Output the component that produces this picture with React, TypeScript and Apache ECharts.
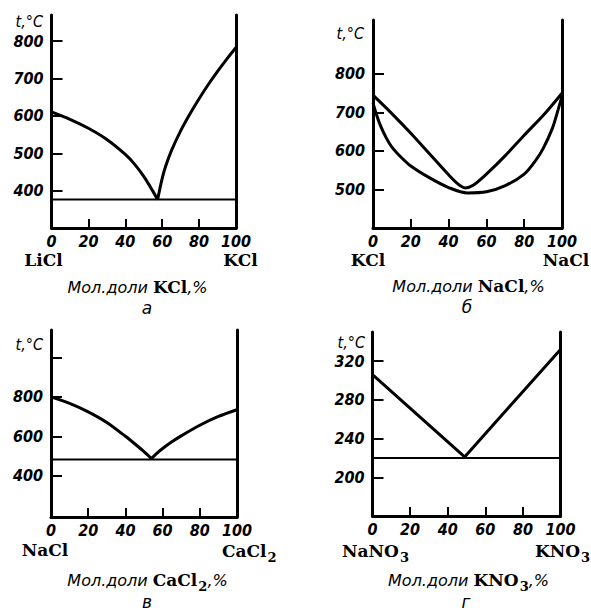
import React, { useEffect, useRef } from "react";
import * as echarts from "echarts";

// ---- Panel а: LiCl – KCl ----
const aLeftX = [0, 10, 20, 30, 40, 45, 50, 55, 57.5];
const aLeftT = [611, 591, 567, 537, 497, 471, 438, 398, 376];
const aRightX = [57.5, 60, 62, 65, 70, 75, 80, 85, 90, 95, 100];
const aRightT = [376, 433, 467, 507, 560, 605, 646, 684, 719, 752, 783];
const aEutectic = 376;
const aYTicks = [400, 500, 600, 700, 800];

// ---- Panel б: KCl – NaCl ----
const bLiqX = [0, 10, 20, 30, 40, 45, 48.7, 53, 60, 70, 80, 90, 100];
const bLiqT = [745, 697, 646, 592, 538, 514, 504, 511, 540, 588, 641, 692, 750];
const bSolX = [0, 2, 4, 7, 10, 15, 20, 30, 40, 50, 60, 70, 80, 86, 90, 95, 98, 100];
const bSolT = [725, 692, 665, 634, 610, 583, 561, 530, 505, 491, 494, 510, 540, 575, 606, 660, 708, 742];
const bYTicks = [500, 600, 700, 800];

// ---- Panel в: NaCl – CaCl2 ----
const cLeftX = [0, 10, 20, 30, 40, 45, 50, 54];
const cLeftT = [800, 767, 724, 670, 600, 562, 522, 487];
const cRightX = [54, 56, 60, 65, 70, 80, 90, 100];
const cRightT = [487, 506, 538, 572, 602, 656, 701, 735];
const cEutectic = 482;
const cYTicks = [400, 600, 800, 1000];
const cYLabels = [400, 600, 800];

// ---- Panel г: NaNO3 – KNO3 ----
const dX = [0, 49, 100];
const dT = [306, 221, 332];
const dEutectic = 220;
const dYTicks = [200, 240, 280, 320];

const xTicks = [20, 40, 60, 80];
const xLabels = [0, 20, 40, 60, 80, 100];

const IT = "'DejaVu Sans Condensed', 'DejaVu Sans', sans-serif";
const ITW = "'DejaVu Sans', sans-serif";
const SERIF = "'DejaVu Serif', 'Liberation Serif', serif";

const pairs = (xs: number[], ys: number[]) => xs.map((x, i) => [x, ys[i]]);

const grids = [
  { left: 51.5, top: 15, width: 184.5, height: 213, min: 300, max: 870, ticks: aYTicks, labels: aYTicks },
  { left: 373, top: 20, width: 189, height: 208, min: 400, max: 940, ticks: bYTicks, labels: bYTicks },
  { left: 51, top: 330, width: 186, height: 187, min: 190, max: 1140, ticks: cYTicks, labels: cYLabels },
  { left: 372.5, top: 332, width: 188, height: 184, min: 160, max: 350, ticks: dYTicks, labels: dYTicks },
];

const richStyles = {
  i: { fontFamily: ITW, fontStyle: "italic", fontSize: 16, color: "#000", lineHeight: 16 },
  t: { fontFamily: IT, fontStyle: "italic", fontSize: 16, color: "#000", lineHeight: 16 },
  L: { fontFamily: ITW, fontStyle: "italic", fontSize: 17, color: "#000", lineHeight: 14 },
  b: { fontFamily: SERIF, fontWeight: "bold", fontSize: 17, color: "#000", lineHeight: 16 },
  s: { fontFamily: SERIF, fontWeight: "bold", fontSize: 13, color: "#000", lineHeight: 16, padding: [12, 0, 0, 1] },
};

function txt(text: string, x: number, y: number, align: string = "center") {
  return {
    type: "text",
    x,
    y,
    style: { text, rich: richStyles, align, verticalAlign: "middle", fill: "#000" },
  };
}

export default function App() {
  const ref = useRef<HTMLDivElement>(null);
  useEffect(() => {
    if (!ref.current) return;
    const chart = echarts.init(ref.current, null, { renderer: "svg" });

    const axisLine = { show: true, onZero: false, lineStyle: { color: "#000", width: 3 } };
    const labelStyle = { color: "#000", fontFamily: IT, fontStyle: "italic", fontWeight: "bold", fontSize: 16 };

    const xAxis = grids.map((g, i) => ({
      type: "value",
      gridIndex: i,
      min: 0,
      max: 100,
      axisLine,
      axisTick: { show: true, inside: true, length: 9, customValues: xTicks, lineStyle: { color: "#000", width: 2 } },
      axisLabel: { show: true, customValues: xLabels, margin: 5, ...labelStyle },
      splitLine: { show: false },
    }));

    const yAxis: any[] = [];
    grids.forEach((g, i) => {
      yAxis.push({
        type: "value",
        gridIndex: i,
        min: g.min,
        max: g.max,
        position: "left",
        axisLine,
        axisTick: { show: true, inside: true, length: 11, customValues: g.ticks, lineStyle: { color: "#000", width: 2 } },
        axisLabel: { show: true, customValues: g.labels, margin: 8, ...labelStyle },
        splitLine: { show: false },
      });
      yAxis.push({
        type: "value",
        gridIndex: i,
        min: g.min,
        max: g.max,
        position: "right",
        axisLine,
        axisTick: { show: false },
        axisLabel: { show: false },
        splitLine: { show: false },
      });
    });

    const curve = (gi: number, data: number[][], smooth: number | boolean, width = 3) => ({
      type: "line",
      xAxisIndex: gi,
      yAxisIndex: gi * 2,
      data,
      smooth,
      showSymbol: false,
      symbol: "none",
      lineStyle: { color: "#000", width },
      silent: true,
    });

    const option: any = {
      animation: false,
      backgroundColor: "#fff",
      grid: grids.map((g) => ({ left: g.left, top: g.top, width: g.width, height: g.height, containLabel: false, outerBoundsMode: "none" })),
      xAxis,
      yAxis,
      series: [
        curve(0, pairs(aLeftX, aLeftT), 0.3),
        curve(0, pairs(aRightX, aRightT), 0.3),
        curve(0, [[0, aEutectic], [100, aEutectic]], false, 2),
        curve(1, pairs(bLiqX, bLiqT), 0.3),
        curve(1, pairs(bSolX, bSolT), 0.3),
        curve(2, pairs(cLeftX, cLeftT), 0.3),
        curve(2, pairs(cRightX, cRightT), 0.3),
        curve(2, [[0, cEutectic], [100, cEutectic]], false, 2),
        curve(3, pairs(dX, dT), false),
        curve(3, [[0, dEutectic], [100, dEutectic]], false, 2),
      ],
      graphic: [
        // panel а
        txt("{t|t,°C}", 43, 21, "right"),
        txt("{b|LiCl}", 43.5, 260),
        txt("{b|KCl}", 240.5, 260),
        txt("{i|Мол.доли }{b|KCl}{i|,%}", 137.5, 287),
        txt("{L|а}", 147, 308),
        // panel б
        txt("{t|t,°C}", 364, 33, "right"),
        txt("{b|KCl}", 368, 260),
        txt("{b|NaCl}", 566, 260),
        txt("{i|Мол.доли }{b|NaCl}{i|,%}", 468.5, 286),
        txt("{L|б}", 467, 307),
        // panel в
        txt("{t|t,°C}", 43, 344, "right"),
        txt("{b|NaCl}", 45, 550),
        txt("{b|CaCl}{s|2}", 222, 551, "left"),
        txt("{i|Мол.доли }{b|CaCl}{s|2}{i|,%}", 147.5, 580),
        txt("{L|в}", 147, 602),
        // panel г
        txt("{t|t,°C}", 365, 342, "right"),
        txt("{b|NaNO}{s|3}", 342, 551, "left"),
        txt("{b|KNO}{s|3}", 535, 551, "left"),
        txt("{i|Мол.доли }{b|KNO}{s|3}{i|,%}", 468.5, 580),
        txt("{L|г}", 466, 602),
      ],
    };
    chart.setOption(option);
    return () => chart.dispose();
  }, []);

  return (
    <div
      ref={ref}
      style={{ position: "absolute", left: 0, top: 0, width: 591, height: 611, background: "#fff" }}
    />
  );
}
